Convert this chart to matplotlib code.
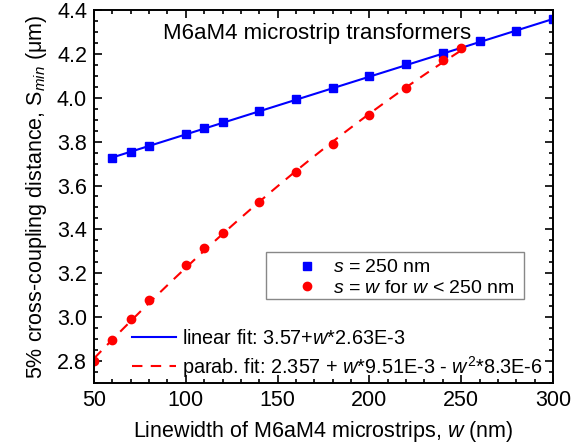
import numpy as np
import matplotlib
matplotlib.use("Agg")
import matplotlib.pyplot as plt
from matplotlib.patches import Rectangle
from matplotlib.ticker import MultipleLocator, FormatStrFormatter

plt.rcParams["font.family"] = ["Liberation Sans", "DejaVu Sans"]
plt.rcParams["mathtext.fontset"] = "custom"
plt.rcParams["mathtext.rm"] = "Liberation Sans"
plt.rcParams["mathtext.it"] = "Liberation Sans:italic"
plt.rcParams["mathtext.bf"] = "Liberation Sans:bold"

# s = 250 nm series
w_fixed = [60, 70, 80, 100, 110, 120, 140, 160, 180, 200, 220, 240, 260, 280, 300]
s_fixed = [3.727, 3.752, 3.780, 3.835, 3.862, 3.891, 3.941, 3.995, 4.046,
           4.099, 4.153, 4.203, 4.257, 4.306, 4.358]

# s = w series (w < 250 nm)
w_equal = [50, 60, 70, 80, 100, 110, 120, 140, 160, 180, 200, 220, 240, 250]
s_equal = [2.798, 2.895, 2.991, 3.076, 3.238, 3.314, 3.385, 3.527, 3.660,
           3.791, 3.920, 4.046, 4.171, 4.225]

# fit coefficients
lin_c0, lin_c1 = 3.57, 2.63e-3
par_c0, par_c1, par_c2 = 2.357, 9.51e-3, -8.3e-6

fig = plt.figure(figsize=(5.85, 4.48), dpi=100)
ax = fig.add_axes([0.1607, 0.1451, 0.7846, 0.8326])

wl = np.linspace(60, 300, 100)
wp = np.linspace(50, 250, 100)
l_lin, = ax.plot(wl, lin_c0 + lin_c1 * wl, color="#0000ff", lw=1.5)
l_par, = ax.plot(wp, par_c0 + par_c1 * wp + par_c2 * wp**2, color="#ff0000",
                 lw=1.5, ls=(0, (5, 4)))
m_fix, = ax.plot(w_fixed, s_fixed, ls="none", marker="s", ms=5.2,
                 color="#0000ff", mec="#0000ff")
m_eq, = ax.plot(w_equal, s_equal, ls="none", marker="o", ms=6,
                color="#ff0000", mec="#ff0000")

ax.set_xlim(50, 300)
ax.set_ylim(2.7, 4.4)
ax.xaxis.set_major_locator(MultipleLocator(50))
ax.xaxis.set_minor_locator(MultipleLocator(10))
ax.yaxis.set_major_locator(MultipleLocator(0.2))
ax.yaxis.set_minor_locator(MultipleLocator(0.05))
ax.yaxis.set_major_formatter(FormatStrFormatter("%.1f"))
ax.tick_params(which="both", direction="in", top=True, right=True,
               labelsize=15.5, width=1.2)
ax.tick_params(which="major", length=6, pad=5)
ax.tick_params(which="minor", length=3)
for sp in ax.spines.values():
    sp.set_linewidth(1.4)

ax.set_xlabel("Linewidth of M6aM4 microstrips, $w$ (nm)", fontsize=15.5,
              labelpad=6)
ax.set_ylabel("5% cross-coupling distance, S$_{min}$ (\u03bcm)", fontsize=15.5,
              labelpad=6)

ax.text(0.485, 0.965, "M6aM4 microstrip transformers", transform=ax.transAxes,
        ha="center", va="top", fontsize=16)

# marker legend with its own frame
ax.add_patch(Rectangle((0.3747, 0.2252), 0.5621, 0.126, transform=ax.transAxes,
                       fill=False, edgecolor="#888888", lw=1.0, zorder=4))
leg1 = ax.legend([m_fix, m_eq],
                 ["$s$ = 250 nm", "$s$ = $w$ for $w$ < 250 nm"],
                 loc="center left", bbox_to_anchor=(0.439, 0.282),
                 fontsize=14, frameon=False, handlelength=1.2,
                 handletextpad=0.75, borderpad=0, labelspacing=0.15,
                 borderaxespad=0)
ax.add_artist(leg1)

ax.legend([l_lin, l_par],
          ["linear fit: 3.57+$w$*2.63E-3",
           "parab. fit: 2.357 + $w$*9.51E-3 - $w^2$*8.3E-6"],
          loc="lower left", bbox_to_anchor=(0.065, -0.012),
          fontsize=14.3, frameon=False, handlelength=2.25,
          handletextpad=0.3, labelspacing=0.27, borderaxespad=0)

fig.savefig("out.png", dpi=100, facecolor="white")
